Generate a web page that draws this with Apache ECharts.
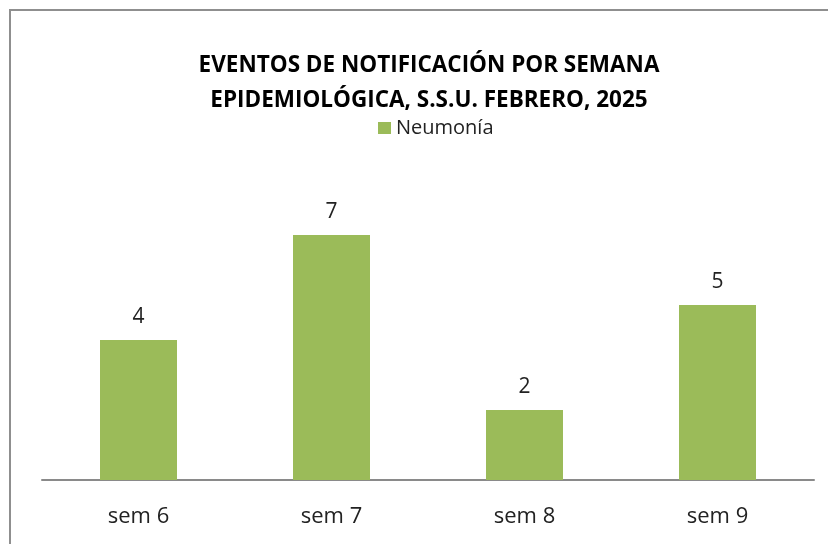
<!DOCTYPE html>
<html>
<head>
<meta charset="utf-8">
<script src="https://cdn.jsdelivr.net/npm/echarts@6/dist/echarts.min.js"></script>
<style>
  html, body { margin: 0; padding: 0; background: #fff; }
  #chart { width: 828px; height: 544px; }
</style>
</head>
<body>
<div id="chart"></div>
<script>
  // datos del grafico
  var semanas = ['sem 6', 'sem 7', 'sem 8', 'sem 9'];
  var neumonia = [4, 7, 2, 5];

  var chart = echarts.init(document.getElementById('chart'));
  var option = {
    backgroundColor: '#fff',
    animation: false,
    title: {
      text: 'EVENTOS DE NOTIFICACIÓN POR SEMANA\nEPIDEMIOLÓGICA, S.S.U. FEBRERO, 2025',
      left: 424,
      textAlign: 'center',
      top: 43,
      textStyle: {
        fontFamily: 'Open Sans',
        fontWeight: 'bold',
        fontSize: 22.5,
        lineHeight: 35,
        color: '#000'
      }
    },
    legend: {
      data: ['Neumonía'],
      left: 373,
      top: 113,
      icon: 'rect',
      itemWidth: 13,
      itemHeight: 12,
      itemGap: 5,
      textStyle: { fontFamily: 'Open Sans', fontSize: 20, color: '#222' }
    },
    graphic: [{
      type: 'rect',
      shape: { x: 10, y: 10, width: 840, height: 560 },
      style: { fill: 'none', stroke: '#8f8f8f', lineWidth: 2 }
    }],
    grid: { left: 42, width: 772, top: 200, bottom: 64 },
    xAxis: {
      type: 'category',
      data: semanas,
      axisLine: { lineStyle: { color: '#8a8a8a', width: 2 } },
      axisTick: { show: false },
      axisLabel: { fontFamily: 'Open Sans', fontSize: 22, color: '#222', margin: 26 }
    },
    yAxis: {
      type: 'value',
      min: 0,
      max: 8,
      show: false,
      splitLine: { show: false }
    },
    series: [{
      name: 'Neumonía',
      type: 'bar',
      data: neumonia,
      barWidth: 77,
      itemStyle: { color: '#9BBB59' },
      label: {
        show: true,
        position: 'top',
        distance: 12,
        fontFamily: 'Open Sans',
        fontSize: 21,
        color: '#222'
      }
    }]
  };
  chart.setOption(option);
</script>
</body>
</html>
